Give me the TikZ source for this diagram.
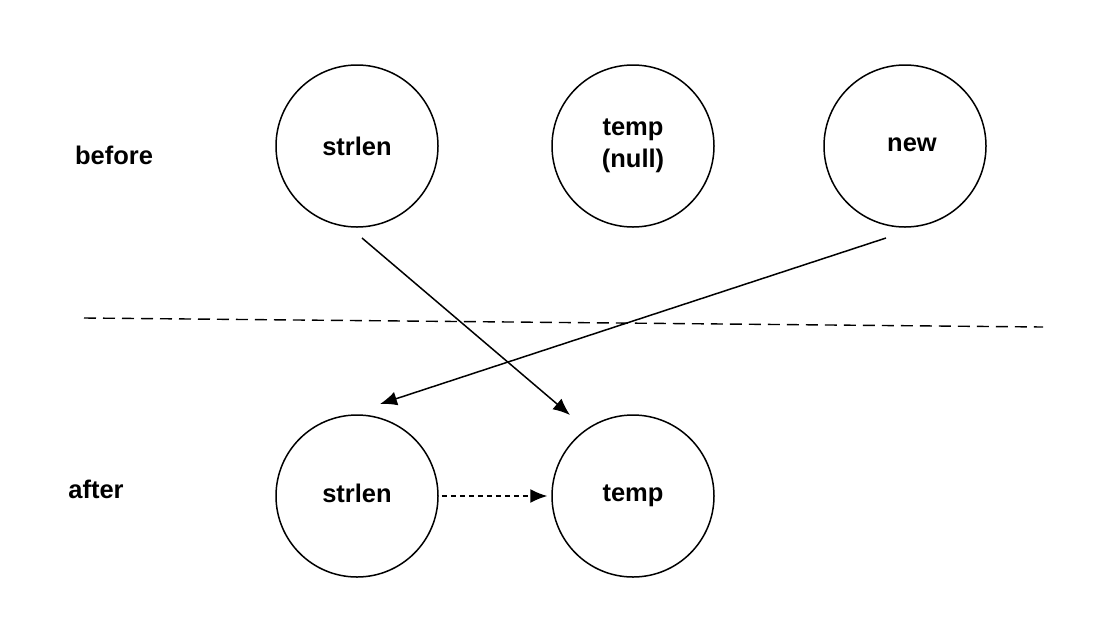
\documentclass[tikz,border=0pt]{standalone}
\usepackage{fontspec}
\setmainfont{Liberation Sans}
\usetikzlibrary{arrows.meta,positioning}
\tikzset{
  ptr/.style={circle,draw=black,line width=1.5pt,minimum size=162pt,inner sep=0pt,align=center,font=\fontsize{25.5}{32}\selectfont\bfseries},
  phase/.style={font=\fontsize{25.5}{28}\selectfont\bfseries},
  link/.style={-{Latex[length=17pt,width=14pt]},line width=1.5pt},
  newlink/.style={link,dash pattern=on 5pt off 4pt},
  divider/.style={line width=1.4pt,dash pattern=on 12pt off 7pt}
}
\begin{document}
\begin{tikzpicture}[x=1pt,y=-1pt]
  \useasboundingbox (0,0) rectangle (1094,630);
  % before
  \node[phase] (before) at (114,155) {before};
  \node[ptr] (strlenold) at (357,146) {strlen};
  \node[ptr] (tempold) at (633,146) {temp\\(null)};
  \node[ptr] (new) at (905,146) {\hspace*{14pt}\raisebox{2pt}{new}};
  % after
  \node[phase] (after) at (96,489) {after};
  \node[ptr] (strlennew) at (357,496) {\raisebox{6pt}{strlen}};
  \node[ptr] (tempnew) at (633,496) {\raisebox{-6pt}{temp}};
  \draw[divider] (84,318) coordinate (divl) -- (1043,327) coordinate (divr);
  \coordinate (fromstrlen) at (362,238);
  \coordinate (fromnew) at (886,238);
  \coordinate (totemp) at (570,415);
  \coordinate (tostrlen) at (380,404);
  \draw[link] (fromstrlen) -- (totemp);
  \draw[link] (fromnew) -- (tostrlen);
  \draw[newlink] (strlennew.east) ++(3,0) coordinate (dashstart) -- ([xshift=-4pt]tempnew.west);
\end{tikzpicture}
\end{document}
